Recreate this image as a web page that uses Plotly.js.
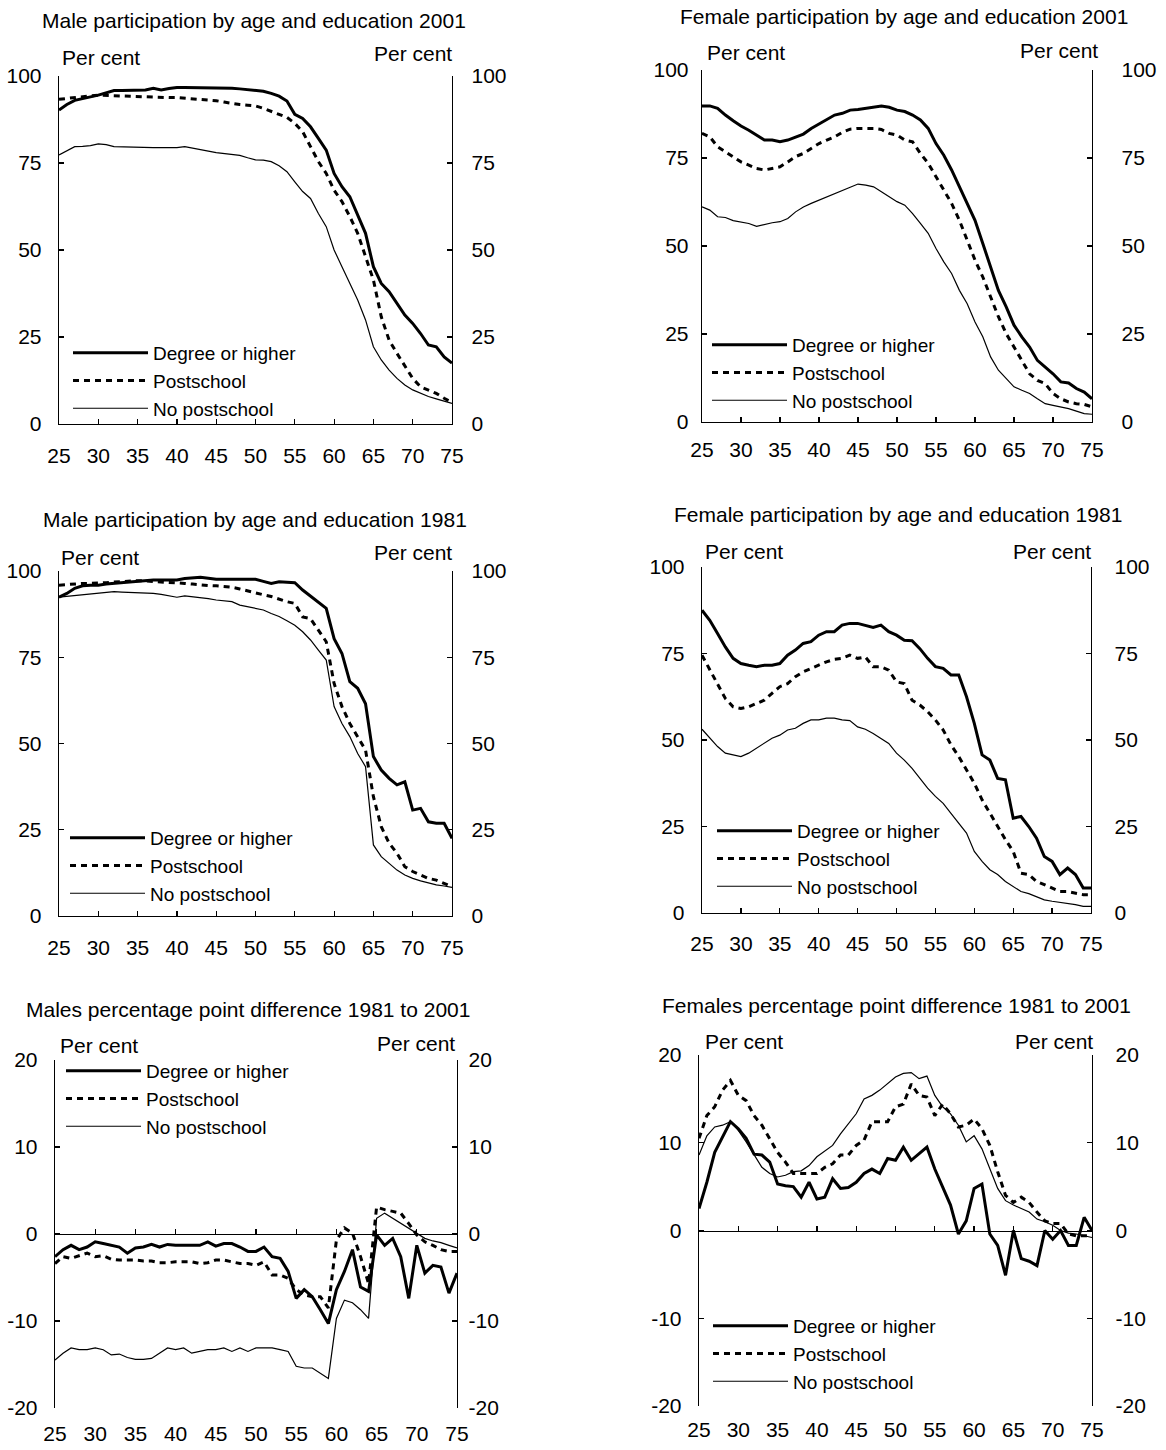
<!DOCTYPE html>
<html><head><meta charset="utf-8">
<script src="https://cdn.plot.ly/plotly-3.0.1.min.js"></script>
<style>html,body{margin:0;padding:0;background:#fff}#chart{width:1166px;height:1450px}</style>
</head><body><div id="chart"></div>
<script>
// ---------------- DATA ----------------
const ages = [25,26,27,28,29,30,31,32,33,34,35,36,37,38,39,40,41,42,43,44,45,46,47,48,49,50,
  51,52,53,54,55,56,57,58,59,60,61,62,63,64,65,66,67,68,69,70,71,72,73,74,75];
const seriesNames = ["Degree or higher", "Postschool", "No postschool"];
const panelTitles = [
  "Male participation by age and education 2001",
  "Female participation by age and education 2001",
  "Male participation by age and education 1981",
  "Female participation by age and education 1981",
  "Males percentage point difference 1981 to 2001",
  "Females percentage point difference 1981 to 2001"
];
const unitLabel = "Per cent";
const ageTicks = [25,30,35,40,45,50,55,60,65,70,75];
const pctTicks = [0,25,50,75,100];
const pctTickText = ["0","25","50","75","100"];
const diffTicks = [-20,-10,0,10,20];
const diffTickText = ["-20","-10","0","10","20"];

const m01Degree = [90.2,91.8,93.0,93.6,94.0,94.5,95.2,95.8,95.8,95.8,95.8,96.0,96.5,96.0,96.4,96.7,96.7,96.7,96.7,96.7,
  96.7,96.7,96.5,96.3,96.0,95.8,95.6,95.0,94.2,92.8,89.0,87.8,85.4,82.1,78.7,72.0,68.2,65.3,60.0,54.8,
  45.2,40.4,38.0,34.7,31.3,28.9,26.0,22.7,22.2,19.3,17.5];
const m01Post = [93.3,93.6,93.8,94.0,94.3,94.5,94.4,94.3,94.2,94.2,94.2,94.1,94.0,93.9,93.8,93.8,93.6,93.5,93.4,93.1,
  92.9,92.5,92.1,91.8,91.6,91.4,90.7,89.9,89.0,88.1,86.4,84.0,79.7,75.4,72.0,67.2,63.9,59.6,54.8,48.1,
  41.4,30.8,24.1,20.3,16.5,13.1,10.7,9.8,8.8,7.4,6.2];
const m01None = [77.3,78.6,79.7,79.8,80.0,80.5,80.3,79.7,79.6,79.5,79.4,79.4,79.4,79.4,79.3,79.4,79.7,79.2,78.7,78.4,
  78.0,77.8,77.6,77.2,76.5,75.9,75.8,75.4,74.2,72.5,69.6,66.8,64.8,60.5,56.7,50.0,45.2,40.4,35.6,29.9,
  22.2,18.4,15.5,13.1,11.2,9.8,8.8,7.9,7.2,6.6,5.9];

const f01Degree = [89.8,89.8,89.1,87.2,85.6,84.1,82.9,81.5,80.1,80.1,79.6,80.1,81.0,81.8,83.4,84.6,85.8,87.2,87.7,88.6,
  88.8,89.1,89.6,89.8,89.4,88.6,88.2,87.2,85.8,83.4,79.1,75.8,71.6,66.8,61.6,57.3,50.7,44.1,37.4,32.7,
  27.5,24.2,21.3,17.5,15.6,13.7,11.4,11.1,9.5,8.5,6.6];
const f01Post = [82.0,81.0,78.2,76.8,75.2,73.9,73.0,72.0,71.6,72.0,72.5,73.9,75.4,76.3,77.7,79.1,80.1,81.0,82.3,83.2,
  83.4,83.4,83.4,83.1,82.0,81.5,80.1,79.6,76.3,73.5,69.7,65.9,62.1,57.3,51.7,46.0,41.2,35.5,29.9,25.1,
  21.3,17.5,13.7,11.8,10.9,8.1,6.6,5.7,5.2,5.0,4.3];
const f01None = [61.1,60.2,58.3,58.1,57.2,56.9,56.4,55.6,56.2,56.6,56.9,57.8,59.7,61.1,62.1,63.0,64.0,64.9,65.9,66.8,
  67.6,67.3,66.8,65.4,64.0,62.6,61.6,59.2,56.4,53.6,49.3,45.5,42.2,37.4,33.6,28.4,24.2,18.5,14.7,12.3,
  10.0,9.0,8.1,6.6,5.2,4.7,4.3,3.8,3.1,2.4,2.2];

const m81Degree = [92.4,93.5,95.0,95.7,95.9,95.9,96.2,96.4,96.6,96.9,97.2,97.3,97.4,97.4,97.4,97.4,97.8,98.1,98.2,97.9,
  97.6,97.6,97.6,97.6,97.6,97.6,97.0,96.4,96.9,96.7,96.6,94.5,92.8,91.1,89.2,80.4,76.1,67.9,66.0,61.5,
  46.2,42.3,39.9,38.0,38.9,30.7,31.2,27.3,26.9,26.9,22.5];
const m81Post = [95.9,96.1,96.4,96.4,96.4,96.4,96.6,96.8,97.0,97.1,97.2,97.1,97.0,96.9,96.8,96.6,96.4,96.2,95.9,95.8,
  95.7,95.5,95.3,94.8,94.2,93.5,93.1,92.6,91.8,91.1,90.6,86.7,86.2,82.9,79.5,67.4,60.7,55.8,52.0,48.1,
  34.6,25.9,21.1,18.2,14.3,12.9,11.9,10.9,10.4,9.5,8.5];
const m81None = [92.4,92.6,93.0,93.2,93.3,93.5,93.7,94.0,93.9,93.8,93.8,93.7,93.5,93.2,92.8,92.4,92.8,92.6,92.4,92.0,
  91.6,91.4,91.1,90.1,89.6,89.2,88.7,87.7,86.8,85.6,84.3,82.4,80.0,77.1,74.2,60.7,55.8,52.0,47.1,43.3,
  20.6,17.2,15.3,13.3,11.9,10.9,10.2,9.5,9.0,8.7,8.3];

const f81Degree = [87.5,84.6,80.8,76.9,73.6,72.1,71.6,71.2,71.6,71.6,72.1,74.5,76.0,77.9,78.4,80.3,81.3,81.3,83.2,83.7,
  83.7,83.2,82.5,83.2,81.3,80.3,78.8,78.7,76.4,73.6,71.2,70.7,68.8,68.8,62.5,54.8,45.7,44.2,38.9,38.5,
  27.4,27.9,25.0,21.6,16.3,14.9,11.1,13.0,11.1,7.2,7.2];
const f81Post = [74.5,70.2,66.3,62.0,59.6,59.1,59.6,60.6,61.5,63.5,65.4,66.3,68.3,69.7,70.7,71.6,72.6,73.3,73.6,74.5,
  73.6,74.0,71.2,71.2,70.2,66.8,66.3,61.5,60.1,58.2,55.8,52.9,48.6,45.2,41.3,37.5,32.7,28.8,25.0,21.2,
  17.8,11.5,11.1,9.1,8.2,7.2,6.2,6.2,5.8,5.3,5.3];
const f81None = [53.1,50.5,48.1,46.2,45.7,45.2,46.2,47.6,49.0,50.5,51.4,52.9,53.4,54.8,55.8,55.8,56.3,56.3,55.8,55.6,
  53.8,53.1,51.9,50.5,49.0,46.2,44.2,41.8,38.9,36.1,33.7,31.7,28.8,26.0,23.1,17.8,14.9,12.5,11.1,9.1,
  7.7,6.2,5.6,4.6,3.8,3.4,3.1,2.7,2.4,1.9,1.9];

const mDiffDegree = [-2.6,-1.8,-1.3,-1.8,-1.5,-0.9,-1.1,-1.3,-1.5,-2.2,-1.6,-1.5,-1.2,-1.5,-1.2,-1.3,-1.3,-1.3,-1.3,-0.9,
  -1.4,-1.1,-1.1,-1.5,-2.0,-2.0,-1.5,-2.6,-2.8,-4.3,-7.4,-6.4,-7.2,-8.7,-10.3,-6.4,-4.3,-1.8,-6.1,-6.6,
  -0.1,-1.3,-0.5,-2.6,-7.4,-1.3,-4.5,-3.6,-3.8,-6.8,-4.5];
const mDiffPost = [-3.4,-2.6,-2.8,-2.5,-2.2,-2.6,-2.5,-2.9,-3.0,-3.0,-3.0,-3.1,-3.1,-3.3,-3.3,-3.2,-3.2,-3.2,-3.4,-3.3,
  -3.0,-3.0,-3.2,-3.4,-3.4,-3.6,-3.2,-4.7,-4.7,-5.1,-6.4,-7.0,-7.2,-7.2,-8.5,-0.7,0.7,0.1,-2.6,-5.7,
  3.1,2.8,2.6,2.4,1.2,-0.1,-0.9,-1.3,-1.8,-2.0,-2.0];
const mDiffNone = [-14.5,-13.7,-13.1,-13.3,-13.3,-13.1,-13.3,-13.9,-13.8,-14.2,-14.4,-14.4,-14.3,-13.7,-13.1,-13.3,-13.1,-13.7,-13.5,-13.3,
  -13.3,-13.1,-13.5,-13.1,-13.5,-13.1,-13.1,-13.1,-13.3,-13.5,-15.2,-15.4,-15.4,-16.0,-16.6,-9.7,-7.6,-7.9,-8.7,-9.7,
  1.8,2.4,1.8,1.2,0.7,0.0,-0.5,-0.8,-1.0,-1.3,-1.6];

const fDiffDegree = [2.5,5.5,8.9,10.6,12.4,11.6,10.5,8.7,8.6,7.8,5.3,5.1,5.0,3.8,5.5,3.6,3.8,5.9,4.8,4.9,
  5.5,6.5,7.0,6.5,8.2,8.0,9.5,8.0,8.7,9.5,7.0,4.9,2.9,-0.4,1.1,4.8,5.3,-0.4,-1.7,-5.1,
  0.0,-3.2,-3.5,-4.0,0.0,-1.0,0.0,-1.7,-1.7,1.5,0.0];
const fDiffPost = [10.5,13.1,14.1,16.0,17.1,15.4,14.8,13.1,12.0,10.5,8.9,7.8,6.5,6.5,6.5,6.5,7.2,7.6,8.6,8.6,
  9.7,10.3,12.4,12.4,12.4,14.1,14.4,16.7,15.4,15.2,13.1,14.4,13.3,11.8,12.0,12.7,11.6,9.7,6.7,4.0,
  3.2,3.8,3.2,2.1,1.1,0.8,0.8,-0.4,-0.6,-0.6,-0.6];
const fDiffNone = [8.6,10.8,11.8,12.0,12.4,11.4,10.1,8.6,7.2,6.5,6.1,6.3,6.7,6.8,7.4,8.4,9.1,9.7,11.0,12.2,
  13.3,15.0,15.4,16.0,16.7,17.5,17.9,18.0,17.3,17.6,15.4,14.1,13.3,12.0,10.1,10.8,9.3,7.0,4.8,3.4,
  2.9,2.5,2.1,1.3,1.0,0.6,0.0,-0.3,-0.4,-0.6,-0.8];

// ---------------- LAYOUT ----------------
const W = 1166, H = 1450;
const fx = px => px / W;
const fy = px => 1 - px / H;
const FONT = "Liberation Sans, Arial, Helvetica, sans-serif";

const lineStyles = [
  {color: "#000", width: 3, dash: "solid"},
  {color: "#000", width: 3, dash: "6px,5px"},
  {color: "#000", width: 1.2, dash: "solid"}
];

const panels = [
  {series: [m01Degree, m01Post, m01None], range: [0, 100], yt: pctTicks, ytt: pctTickText, xd: [59, 452], yd: [76, 424],
   tx: 254, ty: 20, pcL: [60, 57], pcR: [454, 53], leg: [68, 334, 2], ls: 12, rs: 14, xs: 12, diff: false},
  {series: [f01Degree, f01Post, f01None], range: [0, 100], yt: pctTicks, ytt: pctTickText, xd: [702, 1092], yd: [70, 422],
   tx: 904, ty: 17, pcL: [705, 52], pcR: [1100, 51], leg: [707, 326, 3], ls: 8, rs: 24, xs: 8, diff: false},
  {series: [m81Degree, m81Post, m81None], range: [0, 100], yt: pctTicks, ytt: pctTickText, xd: [59, 452], yd: [571, 916],
   tx: 255, ty: 519, pcL: [59, 557], pcR: [454, 553], leg: [65, 819, 2], ls: 12, rs: 14, xs: 12, diff: false},
  {series: [f81Degree, f81Post, f81None], range: [0, 100], yt: pctTicks, ytt: pctTickText, xd: [702, 1091], yd: [567, 913],
   tx: 898, ty: 515, pcL: [703, 551], pcR: [1093, 551], leg: [712, 812, 1], ls: 12, rs: 18, xs: 11, diff: false},
  {series: [mDiffDegree, mDiffPost, mDiffNone], range: [-20, 20], yt: diffTicks, ytt: diffTickText, xd: [55, 457], yd: [1060, 1408],
   tx: 248, ty: 1010, pcL: [58, 1045], pcR: [457, 1043], leg: [61, 1052, 0], ls: 12, rs: 6, xs: 180, diff: true},
  {series: [fDiffDegree, fDiffPost, fDiffNone], range: [-20, 20], yt: diffTicks, ytt: diffTickText, xd: [699, 1092], yd: [1055, 1406],
   tx: 896, ty: 1005, pcL: [703, 1041], pcR: [1095, 1041], leg: [708, 1307, 3], ls: 12, rs: 18, xs: 180, diff: true}
];

const traces = [];
const layout = {
  width: W, height: H, margin: {l: 0, r: 0, t: 0, b: 0},
  paper_bgcolor: "#fff", plot_bgcolor: "rgba(0,0,0,0)",
  font: {family: FONT, size: 20, color: "#000"},
  showlegend: true, hovermode: false,
  annotations: []
};

const tickFont = {family: FONT, size: 21, color: "#000"};

panels.forEach((p, i) => {
  const n = i + 1;
  const xk = n === 1 ? "x" : "x" + n;
  const yk = n === 1 ? "y" : "y" + n;
  const yrk = "y" + (n + 6);
  const legKey = n === 1 ? "legend" : "legend" + n;
  const xDom = [fx(p.xd[0]), fx(p.xd[1])];
  const yDom = [fy(p.yd[1]), fy(p.yd[0])];

  p.series.forEach((s, k) => {
    traces.push({
      type: "scatter", mode: "lines", x: ages, y: s, name: seriesNames[k],
      xaxis: xk, yaxis: yk, legend: legKey, legendgroup: "g" + n + "_" + k,
      line: Object.assign({shape: "linear"}, lineStyles[k]), hoverinfo: "skip"
    });
  });

  const xa = {
    domain: xDom, range: [25, 75], tickmode: "array", tickvals: ageTicks,
    ticks: "inside", ticklen: 5, tickwidth: 1.2, tickcolor: "#000",
    showline: true, linecolor: "#000", linewidth: 1.3, showgrid: false, zeroline: false,
    tickfont: tickFont, ticklabelstandoff: p.xs, fixedrange: true
  };
  if (p.diff) {
    xa.anchor = "free";
    xa.position = (yDom[0] + yDom[1]) / 2;
  } else {
    xa.anchor = yk;
  }
  layout[n === 1 ? "xaxis" : "xaxis" + n] = xa;

  const yBase = {
    range: p.range, tickmode: "array", tickvals: p.yt, ticktext: p.ytt,
    ticks: "inside", ticklen: 5, tickwidth: 1.2, tickcolor: "#000",
    showline: true, linecolor: "#000", linewidth: 1.3, showgrid: false, zeroline: false,
    tickfont: tickFont, fixedrange: true
  };
  layout[n === 1 ? "yaxis" : "yaxis" + n] = Object.assign({}, yBase, {
    domain: yDom, anchor: xk, side: "left", ticklabelstandoff: p.ls
  });
  layout["yaxis" + (n + 6)] = Object.assign({}, yBase, {
    overlaying: yk, anchor: xk, side: "right", ticklabelstandoff: p.rs
  });
  traces.push({type: "scatter", mode: "none", x: ages, y: p.series[2], xaxis: xk, yaxis: yrk,
    showlegend: false, hoverinfo: "skip"});

  layout[legKey] = {
    x: fx(p.leg[0]), y: fy(p.leg[1]), xanchor: "left", yanchor: "top",
    bgcolor: "rgba(0,0,0,0)", borderwidth: 0, itemwidth: 75,
    tracegroupgap: p.leg[2], traceorder: "normal",
    font: {family: FONT, size: 19, color: "#000"}
  };

  layout.annotations.push({
    text: panelTitles[i], xref: "paper", yref: "paper", x: fx(p.tx), y: fy(p.ty),
    xanchor: "center", yanchor: "middle", showarrow: false, font: {family: FONT, size: 21, color: "#000"}
  });
  layout.annotations.push({
    text: unitLabel, xref: "paper", yref: "paper", x: fx(p.pcL[0]), y: fy(p.pcL[1]),
    xanchor: "left", yanchor: "middle", showarrow: false, font: {family: FONT, size: 21, color: "#000"}
  });
  layout.annotations.push({
    text: unitLabel, xref: "paper", yref: "paper", x: fx(p.pcR[0]), y: fy(p.pcR[1]),
    xanchor: "right", yanchor: "middle", showarrow: false, font: {family: FONT, size: 21, color: "#000"}
  });
});

Plotly.newPlot("chart", traces, layout, {staticPlot: true, displayModeBar: false});
</script></body></html>
